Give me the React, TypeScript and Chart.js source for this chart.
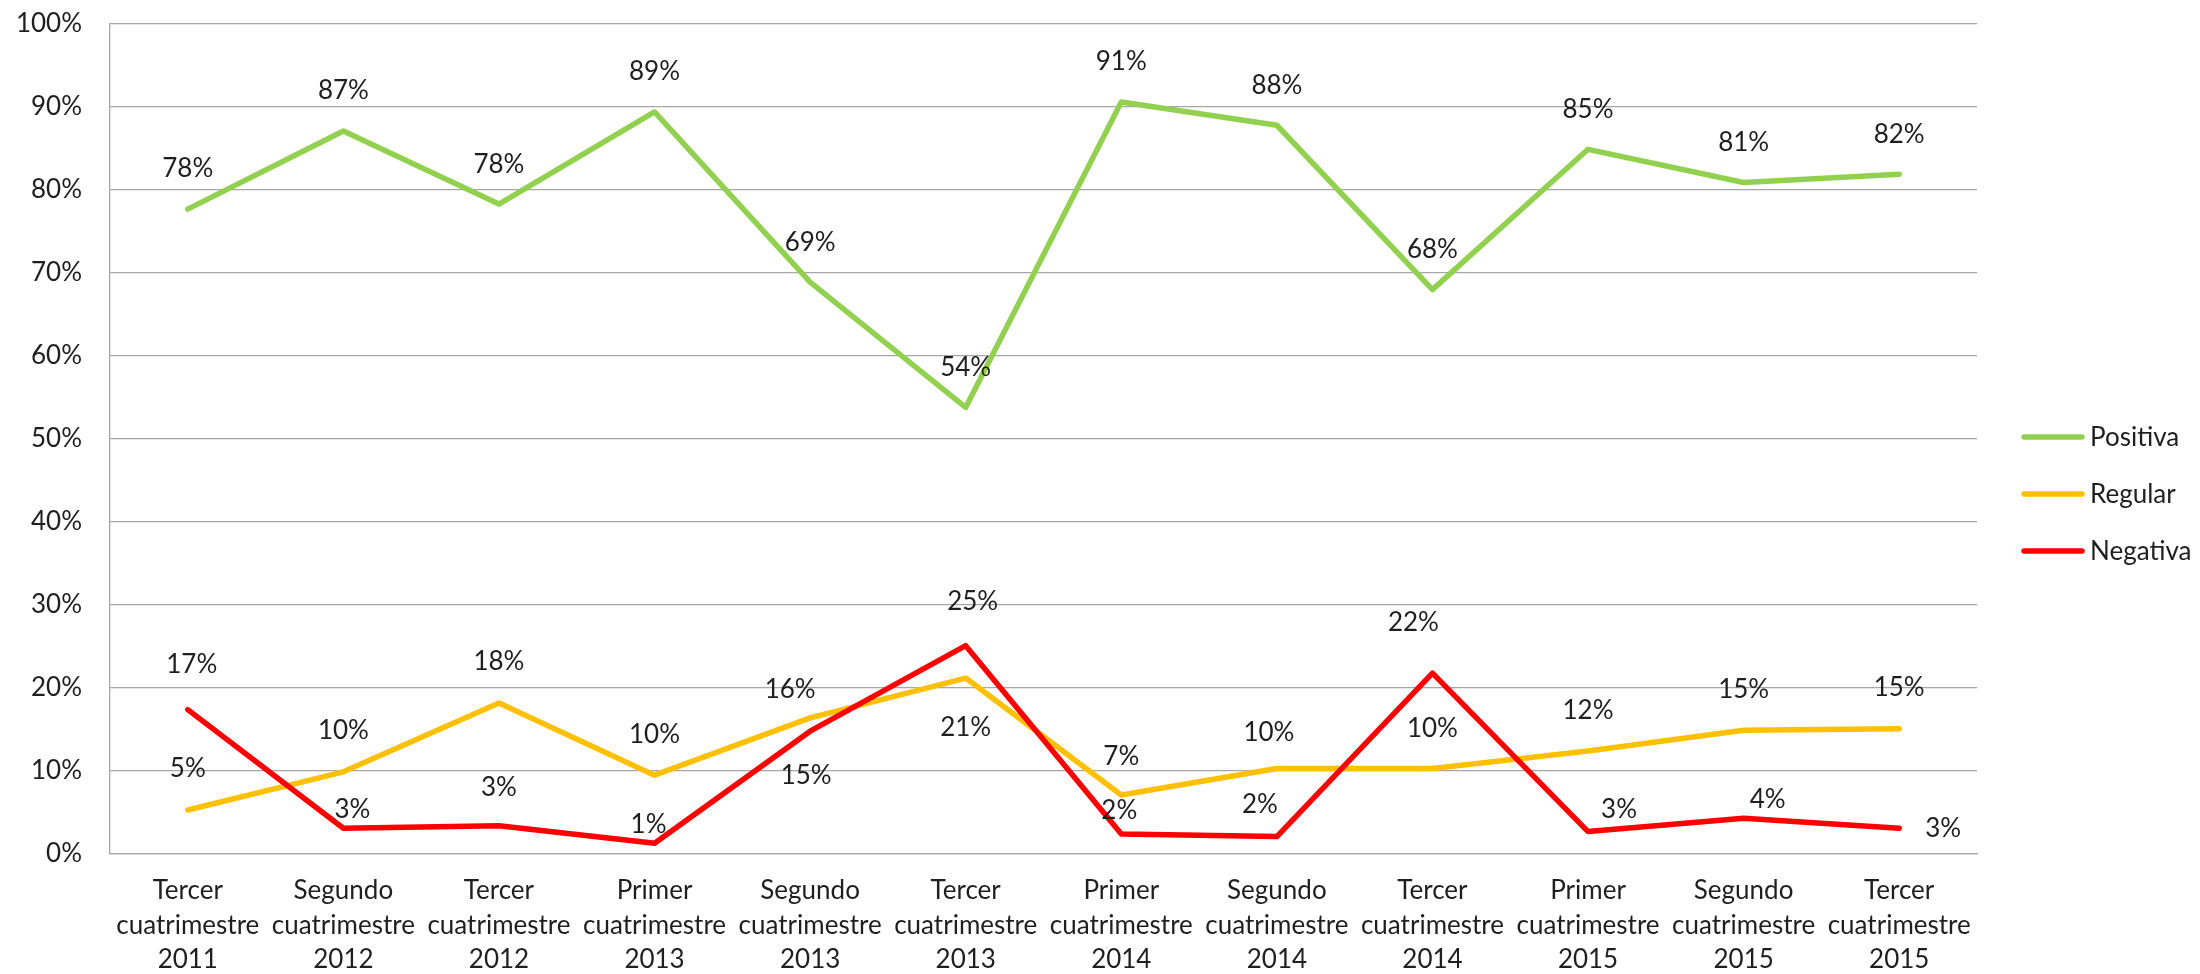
import { useEffect, useRef } from 'react';
import { Chart, registerables } from 'chart.js';

Chart.register(...registerables);

const categories: string[][] = [
  ['Tercer', 'cuatrimestre', '2011'],
  ['Segundo', 'cuatrimestre', '2012'],
  ['Tercer', 'cuatrimestre', '2012'],
  ['Primer', 'cuatrimestre', '2013'],
  ['Segundo', 'cuatrimestre', '2013'],
  ['Tercer', 'cuatrimestre', '2013'],
  ['Primer', 'cuatrimestre', '2014'],
  ['Segundo', 'cuatrimestre', '2014'],
  ['Tercer', 'cuatrimestre', '2014'],
  ['Primer', 'cuatrimestre', '2015'],
  ['Segundo', 'cuatrimestre', '2015'],
  ['Tercer', 'cuatrimestre', '2015'],
];

const positiva = [77.7, 87.1, 78.3, 89.4, 68.9, 53.8, 90.6, 87.8, 68.0, 84.9, 80.9, 81.9];
const regular = [5.3, 9.9, 18.2, 9.5, 16.4, 21.2, 7.1, 10.3, 10.3, 12.4, 14.9, 15.1];
const negativa = [17.4, 3.1, 3.4, 1.3, 14.8, 25.1, 2.4, 2.1, 21.8, 2.7, 4.3, 3.1];

const seriesNames = ['Positiva', 'Regular', 'Negativa'];
const seriesColors = ['#92D050', '#FFC000', '#FF0000'];

const yMin = 0;
const yMax = 100;
const yStep = 10;

// label placement style (dx, dy in px relative to the point)
const positivaLabelOffsets: [number, number][] = Array.from({ length: 12 }, () => [0, -40] as [number, number]);
const regularLabelOffsets: [number, number][] = [
  [0, -41], [0, -41], [0, -41], [0, -41], [-20, -28], [0, 50],
  [0, -38], [-8, -36], [0, -40], [0, -40], [0, -41], [0, -41],
];
const negativaLabelOffsets: [number, number][] = [
  [4, -45], [9, -19], [0, -38], [-6, -19], [-4, 44], [7, -44],
  [-2, -23], [-17, -32], [-19, -50], [31, -22], [24, -19], [44, 0],
];

const FONT = 'Lato';
const FONT_SIZE = 26;
const TEXT_COLOR = '#1f1f1f';
const GRID_COLOR = '#A6A6A6';

export default function App() {
  const canvasRef = useRef<HTMLCanvasElement | null>(null);

  useEffect(() => {
    document.body.style.margin = '0';
    const canvas = canvasRef.current;
    if (!canvas) return;

    const offsets = [positivaLabelOffsets, regularLabelOffsets, negativaLabelOffsets];

    const labelPlugin = {
      id: 'valueLabels',
      afterDatasetsDraw(chart: any) {
        const ctx = chart.ctx;
        ctx.save();
        ctx.font = `${FONT_SIZE}px ${FONT}`;
        ctx.fillStyle = TEXT_COLOR;
        ctx.textAlign = 'center';
        ctx.textBaseline = 'middle';
        chart.data.datasets.forEach((ds: any, di: number) => {
          const meta = chart.getDatasetMeta(di);
          meta.data.forEach((pt: any, i: number) => {
            const v = ds.data[i] as number;
            const [dx, dy] = offsets[di][i];
            ctx.fillText(Math.round(v) + '%', pt.x + dx, pt.y + dy);
          });
        });
        ctx.restore();
      },
    };

    const legendPlugin = {
      id: 'sideLegend',
      afterDraw(chart: any) {
        const ctx = chart.ctx;
        const right = chart.chartArea.right;
        const cy = chart.height / 2 + 7;
        ctx.save();
        ctx.font = `${FONT_SIZE}px ${FONT}`;
        ctx.textAlign = 'left';
        ctx.textBaseline = 'middle';
        seriesNames.forEach((name, i) => {
          const y = cy + (i - 1) * 57;
          ctx.strokeStyle = seriesColors[i];
          ctx.lineWidth = 5.5;
          ctx.lineCap = 'round';
          ctx.beginPath();
          ctx.moveTo(right + 47, y);
          ctx.lineTo(right + 105, y);
          ctx.stroke();
          ctx.fillStyle = TEXT_COLOR;
          ctx.fillText(name, right + 113, y + 1);
        });
        ctx.restore();
      },
    };

    const chart = new Chart(canvas, {
      type: 'line',
      data: {
        labels: categories,
        datasets: [
          { label: seriesNames[0], data: positiva, borderColor: seriesColors[0], backgroundColor: seriesColors[0], order: 3 },
          { label: seriesNames[1], data: regular, borderColor: seriesColors[1], backgroundColor: seriesColors[1], order: 2 },
          { label: seriesNames[2], data: negativa, borderColor: seriesColors[2], backgroundColor: seriesColors[2], order: 1 },
        ].map((d) => ({
          ...d,
          borderWidth: 5.5,
          pointRadius: 0,
          pointHoverRadius: 0,
          tension: 0,
          fill: false,
          borderJoinStyle: 'round' as const,
          borderCapStyle: 'round' as const,
        })),
      },
      options: {
        responsive: false,
        animation: false,
        devicePixelRatio: 1,
        layout: { padding: { top: 24, right: 223, bottom: 0, left: 0 } },
        plugins: {
          legend: { display: false },
          tooltip: { enabled: false },
        },
        font: { family: FONT, size: FONT_SIZE },
        scales: {
          x: {
            offset: true,
            grid: { display: false, drawTicks: false },
            border: { display: true, color: GRID_COLOR, width: 1.3 },
            ticks: {
              color: TEXT_COLOR,
              font: { family: FONT, size: FONT_SIZE, lineHeight: 1.34 },
              padding: 19,
              maxRotation: 0,
              minRotation: 0,
              autoSkip: false,
            },
            afterFit: (scale: any) => {
              scale.height = 120;
            },
          },
          y: {
            min: yMin,
            max: yMax,
            grid: {
              color: GRID_COLOR,
              lineWidth: 1.3,
              drawTicks: true,
              tickLength: 28,
              tickColor: 'rgba(0,0,0,0)',
            },
            border: { display: true, color: GRID_COLOR, width: 1.3 },
            ticks: {
              stepSize: yStep,
              color: TEXT_COLOR,
              font: { family: FONT, size: FONT_SIZE },
              padding: 0,
              callback: (v: any) => v + '%',
            },
            afterFit: (scale: any) => {
              scale.width = 110;
            },
          },
        },
      } as any,
      plugins: [labelPlugin, legendPlugin],
    });

    return () => {
      chart.destroy();
    };
  }, []);

  return (
    <div style={{ width: 2200, height: 974 }}>
      <canvas ref={canvasRef} width={2200} height={974} style={{ display: 'block' }} />
    </div>
  );
}
